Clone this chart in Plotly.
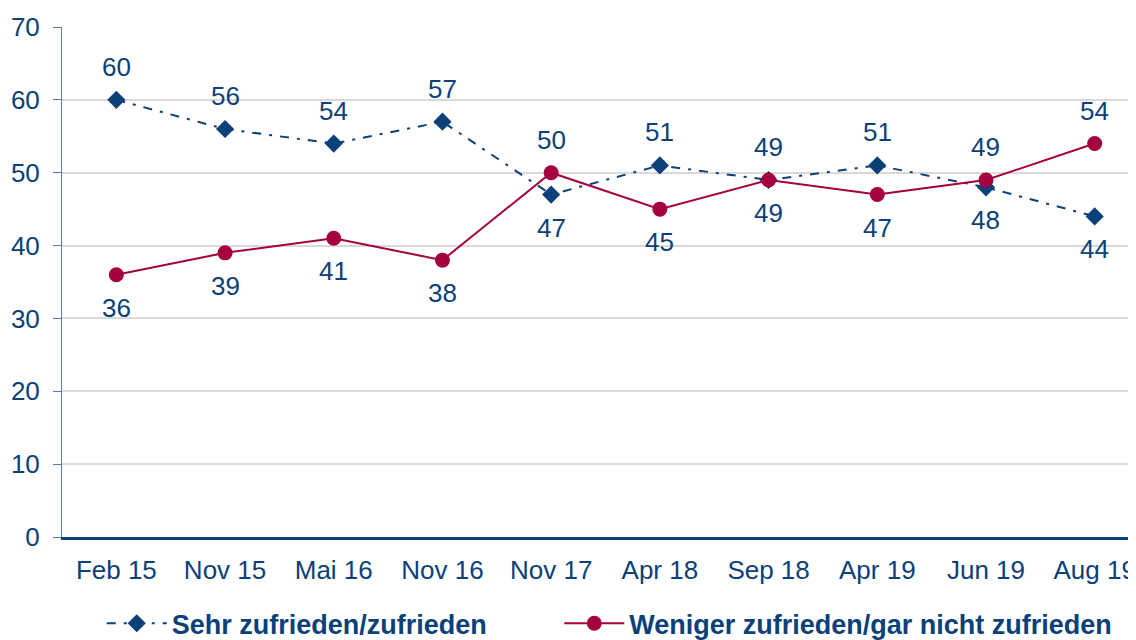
import plotly.graph_objects as go

categories = ["Feb 15", "Nov 15", "Mai 16", "Nov 16", "Nov 17", "Apr 18", "Sep 18", "Apr 19", "Jun 19", "Aug 19"]
sehr_zufrieden = [60, 56, 54, 57, 47, 51, 49, 51, 48, 44]
weniger_zufrieden = [36, 39, 41, 38, 50, 45, 49, 47, 49, 54]
# label placement: +1 above, -1 below
sehr_label_side = [1, 1, 1, 1, -1, 1, 1, 1, -1, -1]
weniger_label_side = [-1, -1, -1, -1, 1, -1, -1, -1, 1, 1]
y_ticks = [0, 10, 20, 30, 40, 50, 60, 70]
series_names = ["Sehr zufrieden/zufrieden", "Weniger zufrieden/gar nicht zufrieden"]

NAVY = "#0b4079"
RED = "#a5003f"
FONT = "Liberation Sans, Arial, sans-serif"
FS = 26
GAP = "\u00a0" * 9  # spacing between legend entries

fig = go.Figure()
fig.add_trace(go.Scatter(
    x=categories, y=sehr_zufrieden, mode="lines+markers",
    name=series_names[0] + GAP,
    line=dict(color=NAVY, width=2, dash="9px,8px,3px,8px"),
    marker=dict(symbol="diamond", size=14, color=NAVY),
))
fig.add_trace(go.Scatter(
    x=categories, y=weniger_zufrieden, mode="lines+markers",
    name=series_names[1],
    line=dict(color=RED, width=2),
    marker=dict(symbol="circle", size=15, color=RED),
))

annotations = []
for series, sides in ((sehr_zufrieden, sehr_label_side), (weniger_zufrieden, weniger_label_side)):
    for c, v, s in zip(categories, series, sides):
        annotations.append(dict(
            x=c, y=v, text=str(v), showarrow=False, yshift=33 * s,
            font=dict(family=FONT, size=FS, color=NAVY),
        ))

fig.update_layout(
    width=1136, height=640,
    margin=dict(l=54, r=8, t=19, b=111, autoexpand=False),
    paper_bgcolor="white", plot_bgcolor="white",
    font=dict(family=FONT, size=FS, color=NAVY),
    annotations=annotations,
    showlegend=True,
    legend=dict(
        orientation="h", x=0.51, xanchor="center", y=-0.17, yanchor="middle",
        font=dict(family=FONT, size=27, color=NAVY, weight="bold"),
        itemwidth=60, traceorder="normal",
    ),
    xaxis=dict(
        type="category", range=[-0.5, 9.38], automargin=False,
        showgrid=False, showline=True, linecolor=NAVY, linewidth=3,
        ticks="", tickfont=dict(family=FONT, size=FS, color=NAVY),
        ticklabelstandoff=8, zeroline=False,
    ),
    yaxis=dict(
        range=[0, 70], tickvals=y_ticks, showgrid=True, gridcolor="#d9d9d9", gridwidth=2,
        showline=True, linecolor="#5a7fa8", linewidth=1, automargin=False,
        ticks="outside", ticklen=8, tickcolor="#5a7fa8",
        tickfont=dict(family=FONT, size=FS, color=NAVY), zeroline=False,
        ticklabelstandoff=8,
    ),
)

fig.write_html("out.html")
